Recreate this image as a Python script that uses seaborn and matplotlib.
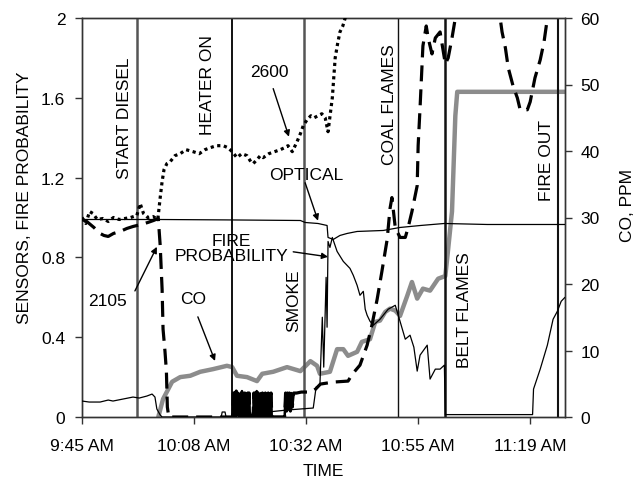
import matplotlib
matplotlib.use("Agg")
import matplotlib.pyplot as plt
import seaborn as sns
import pandas as pd

# ---------------- data (x = minutes after 9:45 AM) ----------------
t_2600 = [0.0, 0.8, 1.6, 2.3, 3.2, 4.4, 5.5, 6.6, 7.8, 9.0, 10.2, 11.5, 12.2, 12.9, 13.8,
          14.9, 15.9, 16.4, 16.8, 17.2, 17.8, 18.5, 19.5, 20.6, 21.8, 23.3, 24.6, 25.8,
          26.9, 28.2, 29.6, 30.6, 31.5, 32.5, 33.5, 34.6, 35.4, 35.9, 36.7, 37.4, 38.0,
          39.2, 40.4, 41.6, 42.5, 43.2, 44.1, 45.1, 45.8, 46.4, 47.2, 48.0, 48.7, 49.5,
          50.3, 51.0, 51.6, 52.5, 53.1, 53.6, 54.1, 54.7, 55.2, 55.8]
v_2600 = [1.00, 0.97, 1.03, 1.02, 0.99, 0.995, 0.98, 1.00, 0.99, 0.995, 1.00, 1.01, 1.07,
          1.02, 1.00, 1.005, 0.99, 1.10, 1.18, 1.24, 1.27, 1.28, 1.31, 1.32, 1.34, 1.33,
          1.32, 1.34, 1.35, 1.36, 1.36, 1.35, 1.33, 1.30, 1.32, 1.31, 1.28, 1.27, 1.29,
          1.31, 1.30, 1.32, 1.33, 1.34, 1.35, 1.36, 1.33, 1.38, 1.42, 1.46, 1.49, 1.51,
          1.50, 1.51, 1.52, 1.50, 1.43, 1.60, 1.80, 1.87, 1.93, 1.96, 2.00, 2.05]

t_2105 = [0.0, 1.0, 2.5, 3.8, 4.6, 5.5, 6.6, 8.0, 9.4, 10.7, 12.4, 13.8, 15.0, 16.0, 16.4,
          16.8, 17.0, 17.4, 17.7, 17.9, 18.2, 31.6,
          31.75, 31.9, 32.05, 32.2, 32.35, 32.5, 32.65, 32.8, 32.95, 33.1, 33.25, 33.4,
          33.55, 33.7, 33.85, 34.0, 34.15, 34.3, 34.45, 34.6, 34.75, 34.9, 35.05, 35.2,
          35.6, 35.9, 36.05, 36.2, 36.35, 36.5, 36.65, 36.8, 36.95, 37.1, 37.25, 37.4,
          37.55, 37.7, 37.85, 38.0, 38.15, 38.3, 38.45, 38.6, 38.75, 38.9, 39.05, 39.2,
          39.35, 39.5, 39.65, 39.8, 42.5, 42.7, 42.9, 43.1, 43.3, 43.5, 43.7, 43.9, 44.1,
          44.4, 45.0, 46.0, 48.0, 49.0, 50.0, 52.7, 55.8, 56.7, 58.3, 59.8, 60.8, 61.9,
          62.9, 64.0, 64.6, 65.0, 65.7, 66.7, 67.8, 68.4, 69.2, 70.3, 70.5, 70.9, 71.3,
          71.5, 72.2, 72.6, 73.4, 74.1, 75.1, 76.2, 76.8, 77.6, 78.3, 78.9, 86.9, 87.7,
          88.1, 88.8, 89.4, 90.4, 91.3, 91.9, 93.4, 94.0, 95.0, 96.1, 96.9, 97.6, 98.2]
v_2105 = [0.99, 0.98, 0.95, 0.92, 0.91, 0.905, 0.92, 0.93, 0.945, 0.955, 0.965, 0.975,
          0.985, 0.995, 0.86, 0.64, 0.44, 0.33, 0.23, 0.05, 0.0, 0.0,
          0.12, 0.01, 0.12, 0.0, 0.13, 0.02, 0.12, 0.01, 0.11, 0.0, 0.12, 0.01,
          0.13, 0.0, 0.12, 0.02, 0.12, 0.0, 0.11, 0.01, 0.12, 0.0, 0.12, 0.01,
          0.0, 0.01, 0.12, 0.0, 0.12, 0.02, 0.13, 0.0, 0.12, 0.01, 0.11, 0.0,
          0.12, 0.02, 0.12, 0.0, 0.11, 0.01, 0.12, 0.0, 0.10, 0.02, 0.12, 0.0,
          0.11, 0.01, 0.12, 0.0, 0.0, 0.12, 0.03, 0.12, 0.04, 0.12, 0.03, 0.12, 0.05,
          0.12, 0.12, 0.125, 0.125, 0.14, 0.165, 0.175, 0.18, 0.215, 0.26, 0.36, 0.46,
          0.59, 0.73, 0.89, 1.045, 1.10, 0.95, 0.90, 0.90, 0.95, 1.03, 1.16, 1.36, 1.55,
          1.76, 1.86, 1.96, 1.90, 1.82, 1.90, 1.93, 1.77, 1.80, 1.90, 2.00, 2.10, 2.10,
          2.00, 1.93, 1.85, 1.75, 1.66, 1.60, 1.54, 1.54, 1.58, 1.70, 1.79, 1.88, 2.00,
          2.10]

t_optical = [0.0, 16.0, 30.0, 45.8, 46.8, 49.5, 51.4, 51.6, 52.7, 54.1, 55.6, 57.7, 63.2,
             66.7, 71.0, 76.0, 85.0, 101.3]
v_optical = [0.99, 0.99, 0.988, 0.985, 0.975, 0.97, 0.96, 0.90, 0.89, 0.91, 0.92, 0.93,
             0.935, 0.95, 0.96, 0.97, 0.965, 0.965]

t_fire = [0.0, 1.5, 3.8, 5.5, 6.5, 8.6, 10.7, 12.0, 13.6, 14.7, 15.3, 15.7, 16.4, 16.8,
          29.2, 29.4, 30.0, 30.2, 38.0, 39.0, 43.0, 48.5, 49.1, 49.9, 50.4, 50.7, 51.2,
          51.4, 51.6, 52.0, 52.5, 53.5, 54.8, 56.2, 56.9, 57.7, 58.3, 59.0, 59.4, 59.8,
          60.4, 61.1, 62.5, 64.2, 65.7, 66.7, 67.8, 68.8, 69.6, 70.3, 70.9, 72.4, 73.0,
          74.1, 75.1, 76.0, 76.2, 76.5, 94.5, 94.7, 96.1, 97.6, 98.8, 99.7, 100.5, 101.3]
v_fire = [0.08, 0.075, 0.075, 0.085, 0.08, 0.09, 0.10, 0.095, 0.105, 0.115, 0.10, 0.04,
          0.01, 0.0, 0.0, 0.025, 0.025, 0.0, 0.0, 0.025, 0.035, 0.045, 0.15, 0.16, 0.50,
          0.25, 0.70, 0.45, 0.88, 0.85, 0.90, 0.83, 0.78, 0.745, 0.71, 0.66, 0.61, 0.63,
          0.54, 0.51, 0.48, 0.46, 0.49, 0.54, 0.56, 0.48, 0.39, 0.41, 0.35, 0.23, 0.31,
          0.36, 0.19, 0.24, 0.24, 0.26, 0.012, 0.012, 0.012, 0.14, 0.24, 0.36, 0.49,
          0.53, 0.58, 0.60]

t_co = [16.0, 17.0, 18.9, 20.6, 22.7, 24.8, 27.5, 30.4, 31.5, 32.5, 34.6, 36.7, 37.8,
        40.1, 43.0, 45.8, 47.9, 49.3, 49.9, 52.0, 53.5, 54.8, 55.8, 57.7, 58.7, 60.4,
        61.5, 62.5, 63.6, 64.6, 65.7, 66.7, 68.2, 69.2, 70.3, 71.5, 73.0, 74.7, 76.2,
        76.8, 77.6, 78.3, 78.7, 101.3]
v_co = [0.0, 2.7, 5.3, 6.0, 6.2, 6.8, 7.2, 7.7, 7.5, 6.2, 6.0, 5.4, 6.5, 6.8, 7.5, 6.9,
        8.4, 7.7, 6.5, 6.8, 10.2, 10.2, 9.2, 9.8, 11.3, 11.7, 14.3, 14.5, 15.8, 16.3, 16.0,
        15.2, 18.2, 20.3, 17.8, 19.3, 19.0, 20.8, 21.2, 25.3, 30.9, 45.3, 48.9, 48.9]

event_times = [11.5, 31.5, 46.6, 66.3, 76.2, 99.9]
event_labels = ["START DIESEL", "HEATER ON", "SMOKE", "COAL FLAMES", "BELT FLAMES", "FIRE OUT"]

x_ticks = [0, 23.5, 47, 70.5, 94]
x_tick_labels = ["9:45 AM", "10:08 AM", "10:32 AM", "10:55 AM", "11:19 AM"]
y_ticks = [0, 0.4, 0.8, 1.2, 1.6, 2.0]
y_tick_labels = ["0", "0.4", "0.8", "1.2", "1.6", "2"]
co_ticks = [0, 10, 20, 30, 40, 50, 60]

# ---------------- style ----------------
sns.set_theme(style="white")
plt.rcParams["font.family"] = ["Liberation Sans", "DejaVu Sans"]
plt.rcParams["text.color"] = "black"
plt.rcParams["axes.labelcolor"] = "black"
plt.rcParams["xtick.color"] = "black"
plt.rcParams["ytick.color"] = "black"
FS = 12.5

fig = plt.figure(figsize=(6.34, 4.81), dpi=100)
ax = fig.add_axes([82 / 634, 1 - 418 / 481, (565 - 82) / 634, (418 - 19) / 481])
ax2 = ax.twinx()

# event lines
ev_colors = ["#555555", "#111111", "#555555", "#111111", "#111111", "#111111"]
ev_widths = [1.8, 1.4, 1.8, 1.0, 1.8, 1.5]
for t, c, w in zip(event_times, ev_colors, ev_widths):
    ax.axvline(t, color=c, lw=w, zorder=1)

def df(t, v):
    return pd.DataFrame({"t": t, "v": v})

# CO (right axis)
sns.lineplot(data=df(t_co, v_co), x="t", y="v", ax=ax2, color="#8c8c8c", lw=3.2,
             sort=False, estimator=None, zorder=2)
# sensors / probability (left axis)
sns.lineplot(data=df(t_2600, v_2600), x="t", y="v", ax=ax, color="black", lw=2.3,
             linestyle=(0, (1, 1.1)), sort=False, estimator=None, zorder=3)
d2105 = df(t_2105, v_2105)
sns.lineplot(data=d2105, x="t", y="v", ax=ax, color="black", lw=2.3,
             linestyle=(0, (5, 2.5)), sort=False, estimator=None, zorder=3)
# the rapidly oscillating stretch renders as solid blocks in the original
noisy = d2105[(d2105["t"] >= 31.6) & (d2105["t"] <= 44.4)]
sns.lineplot(data=noisy, x="t", y="v", ax=ax, color="black", lw=1.8,
             sort=False, estimator=None, zorder=3)
sns.lineplot(data=df(t_optical, v_optical), x="t", y="v", ax=ax, color="black", lw=0.9,
             sort=False, estimator=None, zorder=3)
sns.lineplot(data=df(t_fire, v_fire), x="t", y="v", ax=ax, color="black", lw=0.9,
             sort=False, estimator=None, zorder=3)

ax.set_zorder(ax2.get_zorder() + 1)
ax.patch.set_visible(False)

ax.set_xlim(0, 101.3)
ax.set_ylim(0, 2)
ax2.set_ylim(0, 60)
ax.set_xticks(x_ticks)
ax.set_xticklabels(x_tick_labels, fontsize=FS)
ax.set_yticks(y_ticks)
ax.set_yticklabels(y_tick_labels, fontsize=FS)
ax2.set_yticks(co_ticks)
ax2.set_yticklabels([str(v) for v in co_ticks], fontsize=FS)
ax.set_xlabel("")
ax.set_ylabel("")
ax2.set_ylabel("")
ax.grid(False)
ax2.grid(False)

for a in (ax, ax2):
    for s in a.spines.values():
        s.set_color("#333333")
        s.set_linewidth(1.0)
ax.tick_params(axis="y", direction="out", length=5, width=1, color="#333333",
               pad=7, labelcolor="black", left=True)
ax.tick_params(axis="x", direction="out", length=5, width=1, color="#333333",
               pad=10, labelcolor="black", bottom=True)
ax2.tick_params(axis="y", direction="out", length=5, width=1, color="#333333",
                pad=6, labelcolor="black", right=True)

fig.text(323 / 634, 1 - 472 / 481, "TIME", ha="center", va="center", fontsize=FS)
fig.text(25 / 634, 1 - 198 / 481, "SENSORS, FIRE PROBABILITY", rotation=90,
         ha="center", va="center", fontsize=FS)
fig.text(627 / 634, 1 - 206 / 481, "CO, PPM", rotation=90, ha="center", va="center",
         fontsize=FS)

# rotated event labels
ev_label_pos = [(9.0, 1.50), (26.4, 1.67), (44.3, 0.587), (64.4, 1.571), (80.2, 0.542),
                (97.4, 1.29)]
for (x, y), lab in zip(ev_label_pos, event_labels):
    ax.text(x, y, lab, rotation=90, ha="center", va="center", fontsize=FS)

arrow = dict(arrowstyle="-|>", color="black", lw=1.0, mutation_scale=9,
             shrinkA=0, shrinkB=0)
ax.text(39.4, 1.73, "2600", ha="center", va="center", fontsize=FS)
ax.annotate("", xy=(43.4, 1.405), xytext=(40.1, 1.646), arrowprops=arrow)
ax.text(47.0, 1.215, "OPTICAL", ha="center", va="center", fontsize=FS)
ax.annotate("", xy=(49.5, 0.984), xytext=(46.8, 1.174), arrowprops=arrow)
ax.text(31.3, 0.848, "FIRE\nPROBABILITY", ha="center", va="center", fontsize=FS,
        linespacing=1.0)
ax.annotate("", xy=(51.6, 0.803), xytext=(44.3, 0.828), arrowprops=arrow)
ax.text(5.25, 0.582, "2105", ha="center", va="center", fontsize=FS)
ax.annotate("", xy=(15.7, 0.853), xytext=(11.1, 0.632), arrowprops=arrow)
ax.text(23.3, 0.592, "CO", ha="center", va="center", fontsize=FS)
ax.annotate("", xy=(27.9, 0.281), xytext=(24.3, 0.502), arrowprops=arrow)

fig.savefig("out.png", dpi=100)
